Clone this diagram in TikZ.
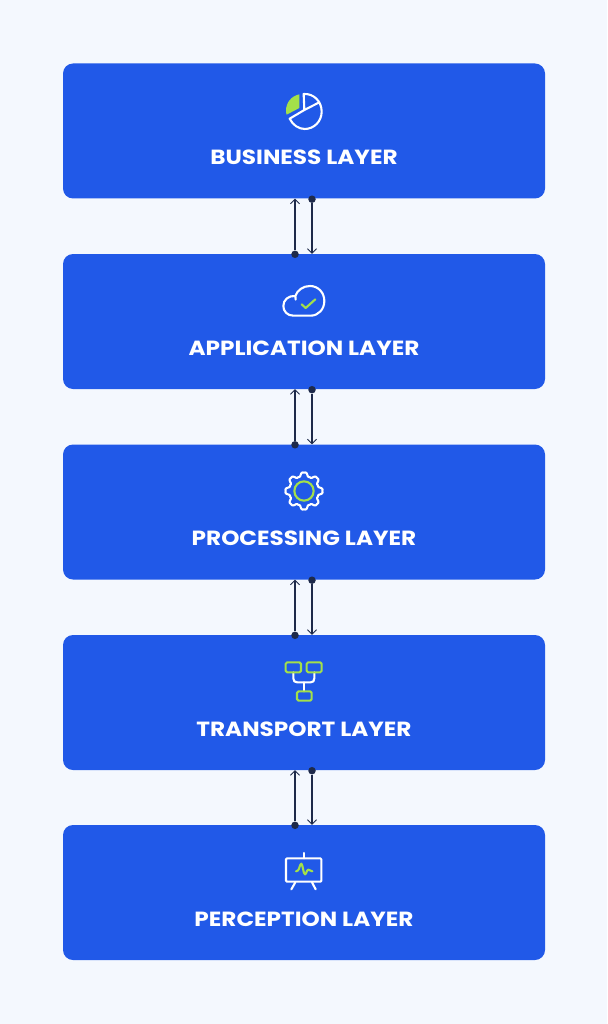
\documentclass[tikz,border=0pt]{standalone}
\usepackage{fontspec}
\setmainfont{Poppins}[BoldFont={Poppins Bold},BoldFeatures={FakeStretch=1.13}]
\usetikzlibrary{arrows.meta}
\definecolor{bgc}{HTML}{F4F8FE}
\definecolor{boxc}{HTML}{2159E8}
\definecolor{navy}{HTML}{1E2A4A}
\definecolor{leaf}{HTML}{A3E04A}
\tikzset{
  x=1pt,y=-1pt,
  layerbox/.style={fill=boxc,rounded corners=10pt,minimum width=482pt,minimum height=135pt,inner sep=0pt,draw=none},
  layertext/.style={text=white,font=\bfseries\fontsize{20.5}{24}\selectfont,inner sep=0pt},
  whiteline/.style={draw=white,line width=2.1pt,line join=round,line cap=round},
  greenline/.style={draw=leaf,line width=2.1pt,line join=round,line cap=round},
  dotnode/.style={circle,fill=navy,minimum size=7.5pt,inner sep=0pt},
  conn/.style={draw=navy,line width=1.2pt,-{Straight Barb[length=4.5pt,width=9pt,line width=0.9pt]}},
}
\begin{document}
\begin{tikzpicture}
\useasboundingbox (0,0) rectangle (607,1024);
\fill[bgc] (0,0) rectangle (607,1024);
\foreach \n/\cy/\tx in {b1/131/BUSINESS LAYER,b2/321.5/APPLICATION LAYER,b3/512/PROCESSING LAYER,b4/702.5/TRANSPORT LAYER,b5/892.5/PERCEPTION LAYER}{
  \node[layerbox] (\n) at (304,\cy) {};
  \node[layertext] (\n t) at (304,\cy+26.3) {\tx};
}
% connectors
\foreach \a/\b in {b1/b2,b2/b3,b3/b4,b4/b5}{
  \node[dotnode] (\a up) at ([xshift=-9pt,yshift=-0.5pt]\b.north) {};
  \node[dotnode] (\a dn) at ([xshift=8pt,yshift=-0.5pt]\a.south) {};
  \coordinate (\a upend) at ([xshift=-9pt]\a.south);
  \coordinate (\a dnend) at ([xshift=8pt]\b.north);
  \draw[conn] (\a up) -- (\a upend);
  \draw[conn] (\a dn) -- (\a dnend);
}
% pie
\begin{scope}[shift={(270,80)},scale=1/3]
  \fill[leaf] (88,43) .. controls (64,48) and (48,68) .. (48,92) .. controls (48,97) and (49,101) .. (50,104) -- (88,84) -- cycle;
  \draw[whiteline] (101,42) .. controls (131,40) and (155,64) .. (155,95) .. controls (155,124) and (132,147) .. (104,147) .. controls (86,147) and (68,135) .. (59,116) -- (103,90) -- (101,42) -- cycle;
  \draw[whiteline] (103,90) -- (148,67);
\end{scope}
% cloud
\begin{scope}[shift={(270,190)},scale=1/3]
  \draw[whiteline] (70,377) .. controls (52,377) and (40,364) .. (40,348) .. controls (40,330) and (55,316) .. (76,318) .. controls (82,300) and (100,288) .. (120,288) .. controls (145,288) and (163,308) .. (163,333) .. controls (163,358) and (145,377) .. (122,377) -- cycle;
  \draw[whiteline] (76,318) -- (77,329);
  \draw[greenline] (95,343) -- (107,354) -- (136,328);
\end{scope}
% gear
\begin{scope}[shift={(270,465)},scale=1/3]
  \draw[whiteline] plot[domain=0:360,samples=240,smooth cycle] ({102+(50+6.5*(cos(8*\x)-0.2*cos(24*\x)))*cos(\x)},{78-(50+6.5*(cos(8*\x)-0.2*cos(24*\x)))*sin(\x)});
  \draw[greenline] (102,78) circle[radius=29];
\end{scope}
% network
\begin{scope}[shift={(270,650)},scale=1/3]
  \draw[whiteline] (70,67) -- (70,85) .. controls (70,93) and (74,97) .. (82,97) -- (122,97) .. controls (129,97) and (133,93) .. (133,85) -- (133,67);
  \draw[whiteline] (102,97) -- (102,124);
  \draw[greenline,rounded corners=1.5pt] (47,37) rectangle (93,67);
  \draw[greenline,rounded corners=1.5pt] (110,37) rectangle (155,67);
  \draw[greenline,rounded corners=1.5pt] (81,124) rectangle (125,152);
\end{scope}
% board
\begin{scope}[shift={(270,845)},scale=1/3]
  \draw[whiteline,rounded corners=1pt] (48,40) rectangle (154,110);
  \draw[whiteline] (101,24) -- (101,40);
  \draw[whiteline] (76,112) -- (64,133);
  \draw[whiteline] (126,112) -- (137,133);
  \draw[greenline] (78,79) -- (84,76) .. controls (88,73) and (90,56) .. (94,56) .. controls (98,56) and (100,88) .. (105,88) .. controls (109,88) and (110,74) .. (115,74) -- (127,79);
\end{scope}
\end{tikzpicture}
\end{document}
